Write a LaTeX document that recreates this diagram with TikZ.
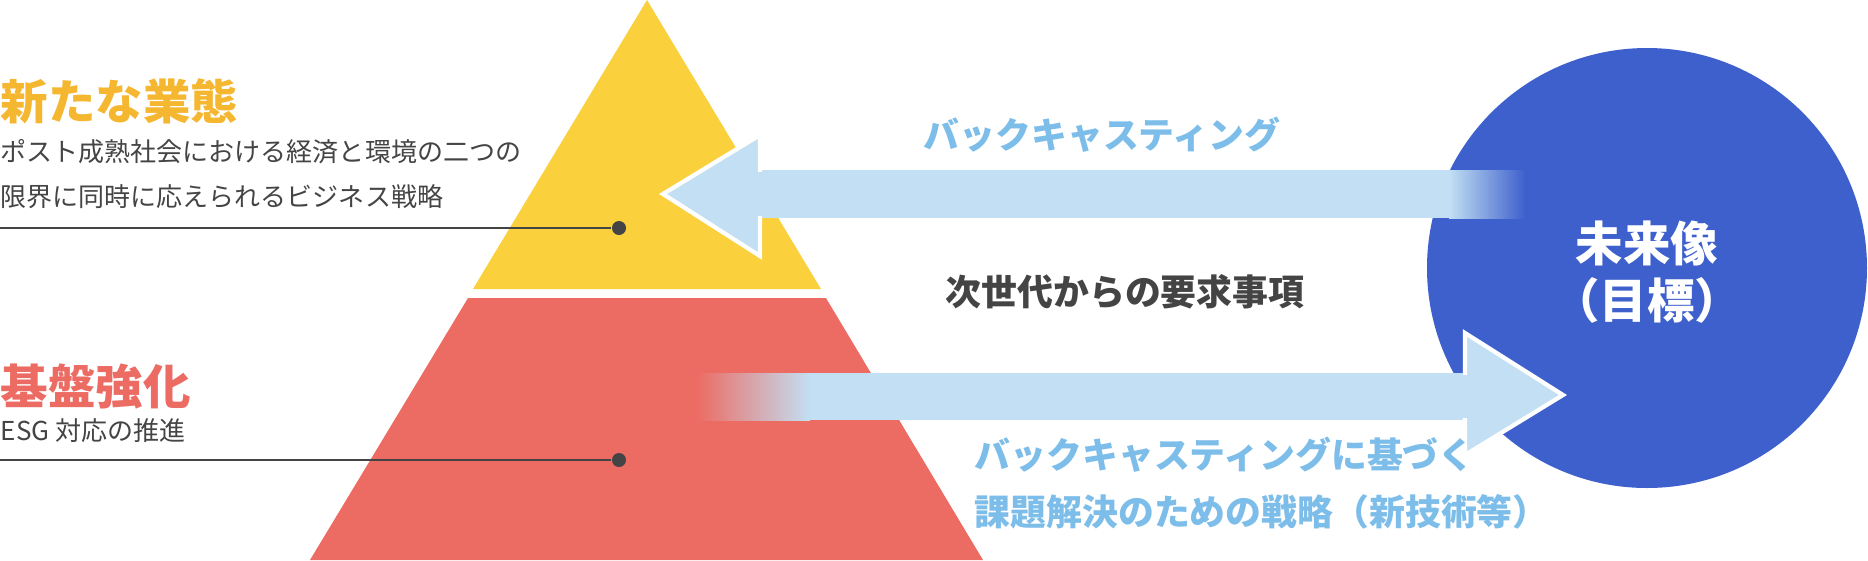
\documentclass[tikz,border=0pt]{standalone}
\usepackage{fontspec}
\setmainfont{Noto Sans CJK JP}
\usetikzlibrary{positioning}
\definecolor{pyryellow}{HTML}{FAD03D}
\definecolor{pyrred}{HTML}{EC6C64}
\definecolor{goalblue}{HTML}{3E60CC}
\definecolor{arrowblue}{HTML}{C2DFF3}
\definecolor{labelblue}{HTML}{7DBDE9}
\definecolor{titleorange}{HTML}{F5B630}
\definecolor{textgrey}{HTML}{444444}
\tikzset{%
  title/.style={anchor=west, inner sep=0pt, font=\fontsize{13.5}{14}\selectfont\bfseries},
  subtext/.style={anchor=west, inner sep=0pt, text=textgrey, font=\fontsize{7.4}{8}\selectfont},
  bluelabel/.style={inner sep=0pt, text=labelblue, font=\fontsize{10.2}{11}\selectfont\bfseries},
  dot/.style={circle, fill=textgrey, inner sep=0pt, minimum size=0.14cm}
}
\begin{document}
\begin{tikzpicture}[x=0.01cm, y=-0.01cm]
		\useasboundingbox (0,0) rectangle (1868,560);
		% pyramid
		\fill[pyryellow] (647,0) -- (821,289) -- (473,289) -- cycle;
		\fill[pyrred] (468,298) -- (826,298) -- (983,560) -- (310,560) -- cycle;
		% goal circle
		\fill[goalblue] (1647,268) circle (220);
		\node[text=white, font=\fontsize{13.5}{14}\selectfont\bfseries, align=center] (goal) at (1647,272) {未来像\\[2pt]（目標）};
		% backcasting arrow
		\fill[arrowblue] (760,170) rectangle (1450,218);
		\shade[left color=arrowblue, right color=goalblue] (1449,170) rectangle (1525,218);
		\draw[white, line width=1.2pt, fill=arrowblue] (760,135) -- (663,194) -- (760,256) -- cycle;
		\fill[arrowblue] (755,172) rectangle (765,216);
		% strategy arrow
		\shade[left color=pyrred, right color=arrowblue] (697,373) rectangle (810,420);
		\fill[arrowblue] (809,373) rectangle (1465,420);
		\draw[white, line width=1.2pt, fill=arrowblue] (1465,333) -- (1563,395) -- (1465,455) -- cycle;
		\fill[arrowblue] (1460,375) rectangle (1470,418);
		% labels
		\node[bluelabel] (back) at (1102,135) {バックキャスティング};
		\node[inner sep=0pt, text=textgrey, font=\fontsize{10.2}{11}\selectfont\bfseries] (demand) at (1125,292) {次世代からの要求事項};
		\node[bluelabel, anchor=west, align=left] (strat) at (974,483) {バックキャスティングに基づく\\[5pt]課題解決のための戦略（新技術等）};
		% upper tier
		\node[title, text=titleorange] (newbiz) at (0,101) {新たな業態};
		\node[subtext] (newbiz1) at (0,152) {ポスト成熟社会における経済と環境の二つの};
		\node[subtext] (newbiz2) at (0,197) {限界に同時に応えられるビジネス戦略};
		\node[dot] (dotA) at (619,228) {};
		\coordinate (startA) at (0,228);
		\draw[textgrey, line width=0.5pt] (startA) -- (dotA);
		% lower tier
		\node[title, text=pyrred] (base) at (0,387) {基盤強化};
		\node[subtext] (base1) at (0,431) {ESG 対応の推進};
		\node[dot] (dotB) at (619,460) {};
		\coordinate (startB) at (0,460);
		\draw[textgrey, line width=0.5pt] (startB) -- (dotB);
	\end{tikzpicture}
\end{document}
